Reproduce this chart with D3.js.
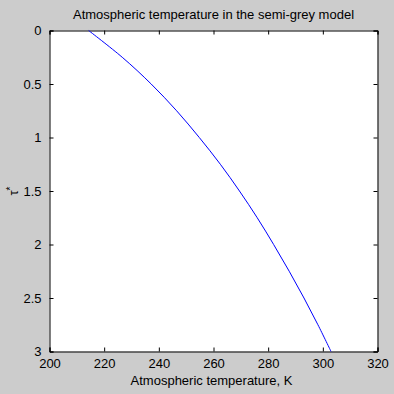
<!DOCTYPE html>
<html lang="en">
<head>
    <meta charset="UTF-8">
    <title>Atmospheric temperature in the semi-grey model</title>
    <script src="https://d3js.org/d3.v7.min.js"></script>
    <style>
        body {
            margin: 0;
            background-color: #cccccc;
        }
        text {
            font-family: 'Liberation Sans', Arial, sans-serif;
            font-size: 13px;
            fill: #000;
        }
        .axis path, .axis line {
            stroke: #000;
        }
    </style>
</head>
<body>
    <script>
        // Data: optical depth tau* and temperature in K
        const tau = [0, 0.25, 0.5, 0.75, 1, 1.25, 1.5, 1.75, 2, 2.25, 2.5, 2.75, 3];
        const temperature = [214.3, 226.6, 237.2, 246.5, 254.8, 262.5, 269.5, 276.0, 282.0, 287.7, 293.1, 298.2, 303.0];
        const xTicks = [200, 220, 240, 260, 280, 300, 320];
        const yTicks = [0, 0.5, 1, 1.5, 2, 2.5, 3];

        const points = tau.map(function(t, i) { return {tau: t, temp: temperature[i]}; });

        // Canvas and plot box
        const W = 394, H = 394;
        const margin = {top: 30.5, right: 16.5, bottom: 42.5, left: 49.5};
        const width = W - margin.left - margin.right,
              height = H - margin.top - margin.bottom;

        const x = d3.scaleLinear().domain([200, 320]).range([0, width]);
        const y = d3.scaleLinear().domain([0, 3]).range([0, height]);

        const svg = d3.select("body").append("svg")
            .attr("width", W)
            .attr("height", H)
            .style("display", "block");

        svg.append("rect")
            .attr("width", W).attr("height", H)
            .attr("fill", "#cccccc");

        const g = svg.append("g")
            .attr("transform", "translate(" + margin.left + "," + margin.top + ")");

        // White plot area
        g.append("rect")
            .attr("width", width)
            .attr("height", height)
            .attr("fill", "#fff");

        // Axes, ticks pointing inward
        const tickLen = 4;
        g.append("g")
            .attr("class", "axis")
            .attr("transform", "translate(0," + height + ")")
            .call(d3.axisBottom(x).tickValues(xTicks).tickSize(-tickLen).tickPadding(7).tickFormat(d3.format("d")));

        g.append("g")
            .attr("class", "axis")
            .call(d3.axisTop(x).tickValues(xTicks).tickSize(-tickLen).tickFormat(""));

        g.append("g")
            .attr("class", "axis")
            .call(d3.axisLeft(y).tickValues(yTicks).tickSize(-tickLen).tickPadding(8).tickFormat(d3.format("")));

        g.append("g")
            .attr("class", "axis")
            .attr("transform", "translate(" + width + ",0)")
            .call(d3.axisRight(y).tickValues(yTicks).tickSize(-tickLen).tickFormat(""));

        g.selectAll(".axis text").style("font-size", "13px");
        g.selectAll(".axis path").attr("stroke-width", 1);

        // The curve
        const line = d3.line()
            .x(function(d) { return x(d.temp); })
            .y(function(d) { return y(d.tau); })
            .curve(d3.curveCatmullRom);

        g.append("path")
            .datum(points)
            .attr("d", line)
            .attr("fill", "none")
            .attr("stroke", "#0000ff")
            .attr("stroke-width", 1);

        // Title and labels
        svg.append("text")
            .attr("x", margin.left + width / 2)
            .attr("y", 19)
            .attr("text-anchor", "middle")
            .text("Atmospheric temperature in the semi-grey model");

        svg.append("text")
            .attr("x", margin.left + width / 2 - 2)
            .attr("y", 385)
            .attr("text-anchor", "middle")
            .text("Atmospheric temperature, K");

        const yl = svg.append("text")
            .attr("transform", "translate(18," + (margin.top + height / 2) + ") rotate(-90)")
            .attr("text-anchor", "middle");
        yl.append("tspan").text("\u03c4");
        yl.append("tspan").attr("dy", -4).style("font-size", "10px").text("*");
    </script>
</body>
</html>
